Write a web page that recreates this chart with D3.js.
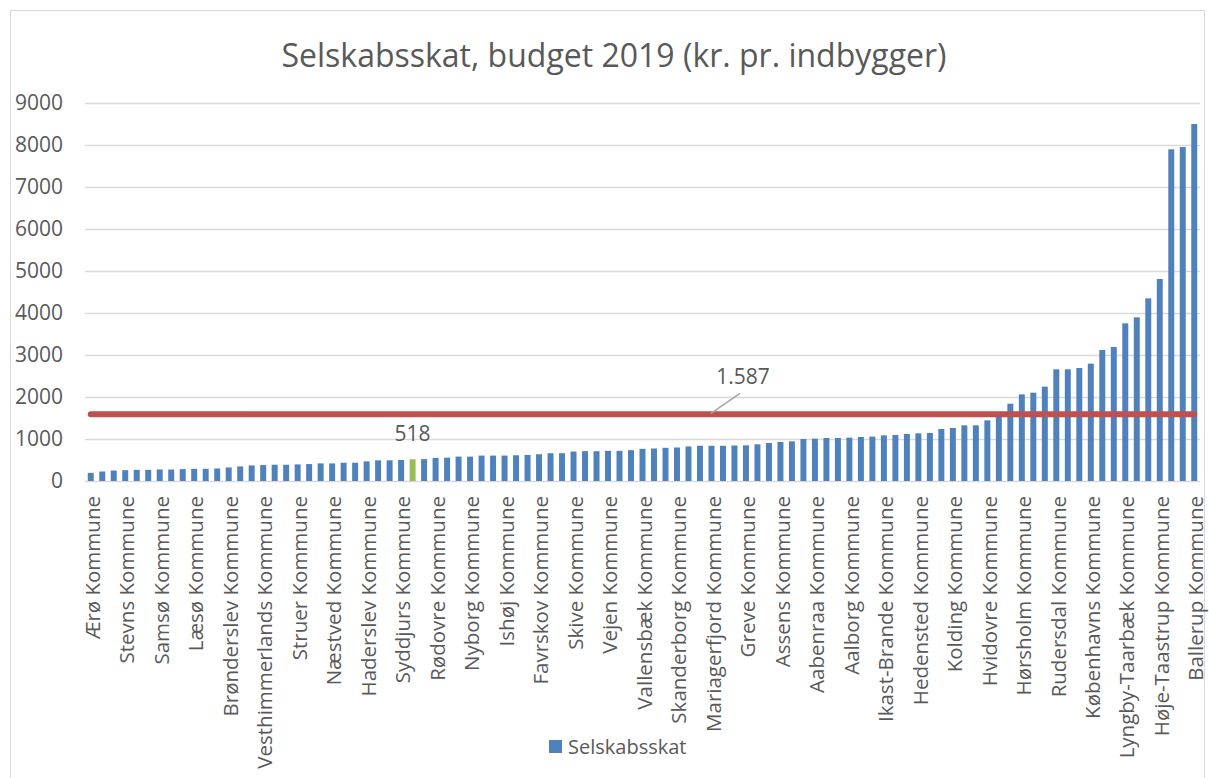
<!DOCTYPE html>
<html>
<head>
<meta charset="utf-8">
<script src="https://cdn.jsdelivr.net/npm/d3@7"></script>
<style>
  body { margin: 0; background: #fff; }
  text { font-family: "Open Sans", sans-serif; fill: #595959; }
</style>
</head>
<body>
<div id="chart"></div>
<script>
const width = 1209;
const height = 778;

// kommuner, sorteret efter selskabsskat (kr. pr. indbygger)
const kommuner = [
  "Ærø", "Lolland", "Langeland", "Stevns", "Tønder", "Morsø", "Samsø", "Lemvig", "Guldborgsund",
  "Læsø", "Bornholm", "Thisted", "Brønderslev", "Jammerbugt", "Odsherred", "Vesthimmerlands",
  "Vordingborg", "Faxe", "Struer", "Kalundborg", "Hjørring", "Næstved", "Frederikshavn", "Rebild",
  "Haderslev", "Nordfyns", "Kerteminde", "Syddjurs", "Norddjurs", "Slagelse", "Rødovre",
  "Faaborg-Midtfyn", "Holbæk", "Nyborg", "Ringsted", "Sorø", "Ishøj", "Varde", "Svendborg",
  "Favrskov", "Randers", "Middelfart", "Skive", "Ringkøbing-Skjern", "Halsnæs", "Vejen",
  "Gribskov", "Sønderborg", "Vallensbæk", "Odder", "Holstebro", "Skanderborg", "Lejre", "Køge",
  "Mariagerfjord", "Esbjerg", "Fredericia", "Greve", "Silkeborg", "Horsens", "Assens", "Herning",
  "Frederikssund", "Aabenraa", "Hillerød", "Helsingør", "Aalborg", "Odense", "Roskilde",
  "Ikast-Brande", "Solrød", "Egedal", "Hedensted", "Fredensborg", "Vejle", "Kolding", "Billund",
  "Dragør", "Hvidovre", "Aarhus", "Allerød", "Hørsholm", "Furesø", "Albertslund", "Rudersdal",
  "Brøndby", "Tårnby", "Københavns", "Gladsaxe", "Herlev", "Lyngby-Taarbæk", "Frederiksberg",
  "Gentofte", "Høje-Taastrup", "Glostrup", "Fanø", "Ballerup"
].map(d => d + " Kommune");

const selskabsskat = [
  194, 226, 250, 258, 266, 266, 274, 274, 282,
  290, 290, 298, 323, 347, 371, 379,
  387, 387, 395, 403, 419, 419, 435, 435,
  468, 492, 492, 500, 518, 520, 548,
  556, 581, 581, 605, 605, 605, 613, 621,
  637, 661, 661, 702, 710, 710, 718,
  718, 734, 766, 774, 790, 798, 823, 839,
  839, 839, 845, 849, 873, 905, 929, 944,
  1000, 1008, 1024, 1024, 1032, 1048, 1056,
  1087, 1095, 1119, 1135, 1143, 1238, 1262, 1325,
  1325, 1444, 1560, 1841, 2063, 2103, 2246, 2659,
  2659, 2690, 2794, 3119, 3190, 3754, 3897,
  4349, 4810, 7897, 7952, 8500
];

const gennemsnit = 1587;
const fremhaevet = "Norddjurs Kommune";
const yTicks = [0, 1000, 2000, 3000, 4000, 5000, 6000, 7000, 8000, 9000];

const data = kommuner.map((k, i) => ({ name: k, value: selskabsskat[i] }));

const svg = d3.select("#chart").append("svg")
  .attr("width", width)
  .attr("height", height);

// chart border
svg.append("rect")
  .attr("x", 10.5).attr("y", 10.5)
  .attr("width", 1194).attr("height", 780)
  .attr("fill", "#fff")
  .attr("stroke", "#d9d9d9");

const x = d3.scaleBand()
  .domain(kommuner)
  .range([85, 1200])
  .paddingInner(0.48)
  .paddingOuter(0.24);

const y = d3.scaleLinear()
  .domain([0, 9000])
  .range([481, 103]);

// gridlines
svg.append("g")
  .selectAll("line")
  .data(yTicks)
  .join("line")
  .attr("x1", 85).attr("x2", 1200)
  .attr("y1", d => Math.round(y(d)) + 0.5)
  .attr("y2", d => Math.round(y(d)) + 0.5)
  .attr("stroke", "#d9d9d9")
  .attr("stroke-width", 1.3);

// y axis labels
const yAxis = svg.append("g")
  .attr("transform", "translate(63,0)")
  .call(d3.axisLeft(y).tickValues(yTicks).tickSize(0).tickPadding(0).tickFormat(d3.format("d")));
yAxis.select(".domain").remove();
yAxis.selectAll("text")
  .attr("fill", "#595959")
  .style("font-size", "21px")
  .style("font-family", "Open Sans");

// bars
svg.append("g")
  .selectAll("rect")
  .data(data)
  .join("rect")
  .attr("x", d => x(d.name))
  .attr("width", x.bandwidth())
  .attr("y", d => y(d.value))
  .attr("height", d => y(0) - y(d.value))
  .attr("fill", d => d.name === fremhaevet ? "#9bbb59" : "#4f81bd");

// x axis labels, every third
const xAxis = svg.append("g")
  .attr("transform", "translate(2,496)")
  .call(d3.axisBottom(x).tickValues(kommuner.filter((d, i) => i % 3 === 0)).tickSize(0).tickPadding(0));
xAxis.select(".domain").remove();
xAxis.selectAll("text")
  .attr("transform", "rotate(-90)")
  .attr("text-anchor", "end")
  .attr("x", 0)
  .attr("y", 0)
  .attr("dy", "0.35em")
  .attr("fill", "#595959")
  .style("font-size", "20.5px")
  .style("font-family", "Open Sans");

// average line
const line = d3.line()
  .x(d => x(d.name) + x.bandwidth() / 2)
  .y(d => y(d.avg));

svg.append("path")
  .datum(kommuner.map(k => ({ name: k, avg: gennemsnit })))
  .attr("d", line)
  .attr("fill", "none")
  .attr("stroke", "#c0504d")
  .attr("stroke-width", 6)
  .attr("stroke-linecap", "round");

// average label with leader line
const avgLabelX = x(kommuner[57]) + x.bandwidth() / 2 - 3;
svg.append("line")
  .attr("x1", avgLabelX - 32).attr("y1", y(gennemsnit) - 1)
  .attr("x2", avgLabelX - 3).attr("y2", y(gennemsnit) - 21)
  .attr("stroke", "#a6a6a6")
  .attr("stroke-width", 1.5);
svg.append("text")
  .attr("x", avgLabelX)
  .attr("y", y(gennemsnit) - 30)
  .attr("text-anchor", "middle")
  .style("font-size", "21px")
  .text(d3.format(",")(gennemsnit).replace(",", "."));

// highlighted label
const hl = data.find(d => d.name === fremhaevet);
svg.append("text")
  .attr("x", x(hl.name) + x.bandwidth() / 2)
  .attr("y", y(hl.value) - 18)
  .attr("text-anchor", "middle")
  .style("font-size", "21px")
  .text(hl.value);

// title
svg.append("text")
  .attr("x", 614)
  .attr("y", 67)
  .attr("text-anchor", "middle")
  .style("font-size", "32px")
  .text("Selskabsskat, budget 2019 (kr. pr. indbygger)");

// legend
svg.append("rect")
  .attr("x", 549).attr("y", 740)
  .attr("width", 13).attr("height", 13)
  .attr("fill", "#4f81bd");
svg.append("text")
  .attr("x", 568).attr("y", 754)
  .style("font-size", "20px")
  .text("Selskabsskat");
</script>
</body>
</html>
